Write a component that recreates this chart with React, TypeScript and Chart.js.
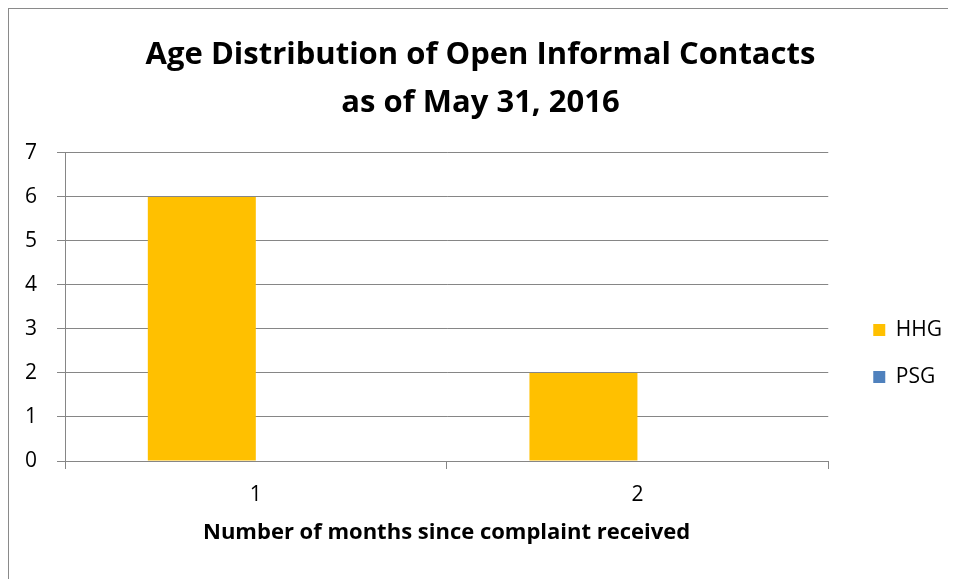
import React, { useEffect, useRef } from 'react';
import { Chart, registerables } from 'chart.js';

Chart.register(...registerables);

const categories = ['1', '2'];
const hhgValues = [6, 2];
const psgValues = [0, 0];
const seriesNames = ['HHG', 'PSG'];
const seriesColors = ['#FFC000', '#4F81BD'];
const titleLines = ['Age Distribution of Open Informal Contacts', 'as of May 31, 2016'];
const xAxisTitle = 'Number of months since complaint received';
const yMin = 0;
const yMax = 7;
const yStep = 1;

const FONT = '"Open Sans", Lato, sans-serif';
const GRID = '#868686';

export default function App() {
  const ref = useRef<HTMLCanvasElement | null>(null);

  useEffect(() => {
    if (!ref.current) return;
    const chart = new Chart(ref.current, {
      type: 'bar',
      data: {
        labels: categories,
        datasets: [
          { label: seriesNames[0], data: hhgValues, backgroundColor: seriesColors[0], borderWidth: 0, yAxisID: 'y' },
          { label: seriesNames[1], data: psgValues, backgroundColor: seriesColors[1], borderWidth: 0, yAxisID: 'y' },
        ],
      },
      options: {
        responsive: false,
        maintainAspectRatio: false,
        animation: false,
        layout: { padding: { top: 0, left: 0, right: 4, bottom: 0 } },
        datasets: { bar: { categoryPercentage: 0.566, barPercentage: 1 } },
        plugins: {
          tooltip: { enabled: false },
          title: {
            display: true,
            text: titleLines,
            color: '#000',
            font: { family: FONT, size: 31, weight: 'bold', lineHeight: 1.548 },
            padding: { top: 22, bottom: 26 },
          },
          legend: {
            position: 'right',
            title: { display: true, text: '', font: { size: 10, lineHeight: 1 }, padding: { top: 109, bottom: 0 } },
            labels: {
              boxWidth: 12,
              boxHeight: 12,
              padding: 26,
              color: '#000',
              font: { family: FONT, size: 21 },
            },
          },
        },
        scales: {
          x: {
            type: 'category',
            offset: true,
            grid: { display: true, drawOnChartArea: false, drawTicks: true, tickLength: 8, color: GRID, offset: true },
            border: { display: true, color: GRID, width: 1 },
            ticks: { color: '#000', font: { family: FONT, size: 21, lineHeight: 1 }, padding: 16 },
            title: {
              display: true,
              text: xAxisTitle,
              color: '#000',
              font: { family: FONT, size: 22, weight: 'bold', lineHeight: 1 },
              padding: { top: 0, bottom: 35 },
            },
          },
          y: {
            type: 'linear',
            position: 'left',
            min: yMin,
            max: yMax,
            ticks: { stepSize: yStep, color: '#000', font: { family: FONT, size: 21 }, padding: 20 },
            grid: { color: GRID, tickLength: 8, lineWidth: 1 },
            border: { display: true, color: GRID, width: 1 },
            afterFit: (s: any) => { s.width = 56; },
          },
          yRight: {
            type: 'linear',
            position: 'right',
            display: true,
            grid: { display: false },
            ticks: { display: false },
            border: { display: false },
            afterFit: (s: any) => { s.width = 19; },
          },
        },
      },
    });
    return () => chart.destroy();
  }, []);

  return (
    <div style={{ borderLeft: '1px solid #8a8a8a', borderTop: '1px solid #8a8a8a', width: 947, height: 570, background: '#fff' }}>
      <canvas ref={ref} width={947} height={570} style={{ display: 'block', width: 947, height: 570 }} />
    </div>
  );
}
